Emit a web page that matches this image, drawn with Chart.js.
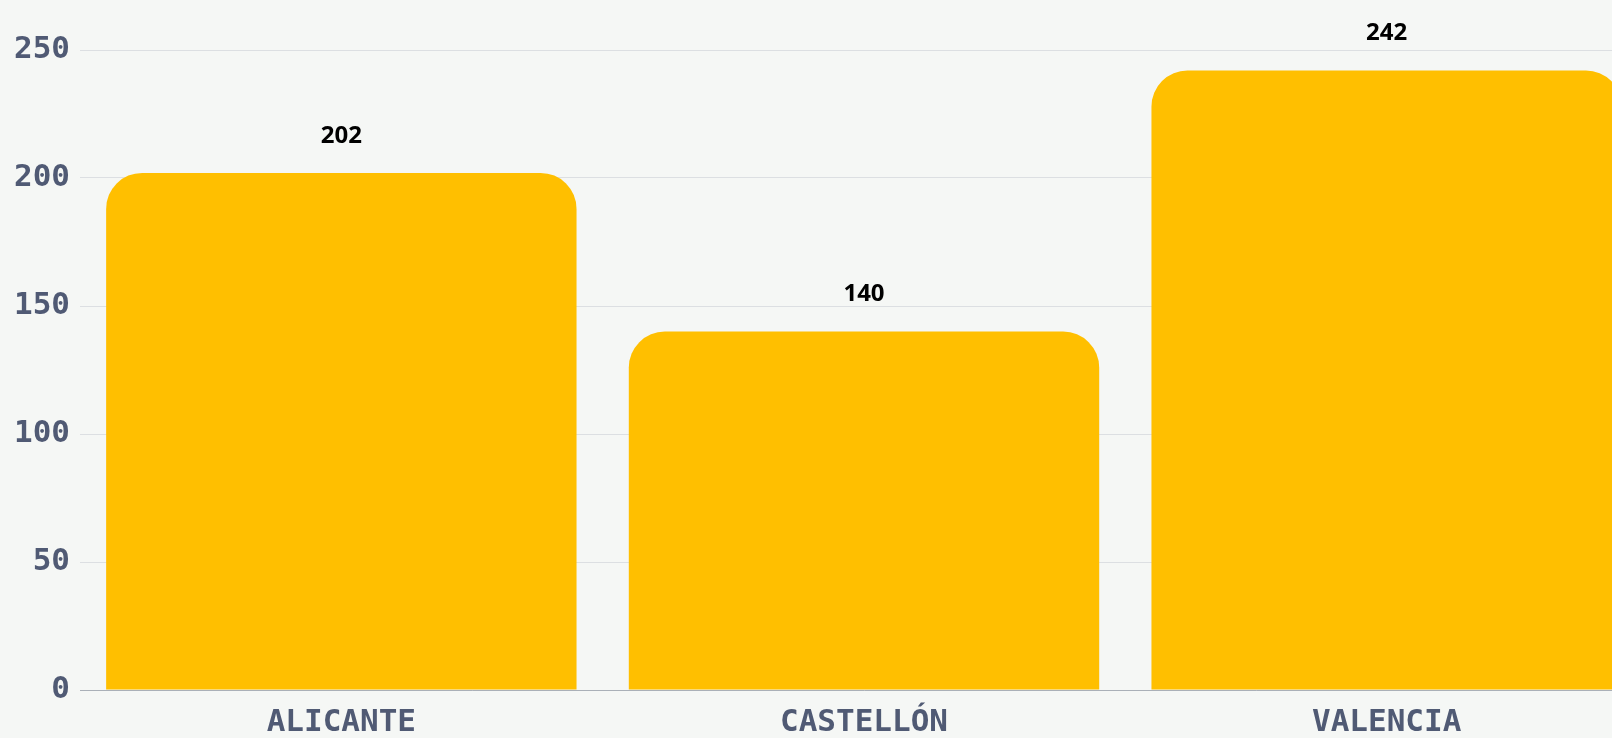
<!DOCTYPE html>
<html>
<head>
<meta charset="utf-8">
<script src="https://cdn.jsdelivr.net/npm/chart.js@4.4.0/dist/chart.umd.min.js"></script>
<style>
  html, body { margin: 0; padding: 0; background: #f5f7f5; overflow: hidden; }
  .chart-box { width: 1648px; height: 738px; position: relative; }
</style>
</head>
<body>
<div class="chart-box"><canvas id="chart"></canvas></div>
<script>
const provinces = ["ALICANTE", "CASTELLÓN", "VALENCIA"];
const counts = [202, 140, 242];
const yTicks = [0, 50, 100, 150, 200, 250];

// draws the value over each bar (no datalabels plugin here)
const valueLabels = {
  id: "valueLabels",
  afterDatasetsDraw(chart) {
    const ctx = chart.ctx;
    const meta = chart.getDatasetMeta(0);
    ctx.save();
    ctx.font = "bold 24px 'Open Sans', 'Noto Sans', sans-serif";
    ctx.fillStyle = "#000";
    ctx.textAlign = "center";
    ctx.textBaseline = "middle";
    meta.data.forEach((bar, i) => {
      ctx.fillText(counts[i], bar.x, bar.y - 37);
    });
    ctx.restore();
  },
};

const tickFont = { family: "'DejaVu Sans Mono', monospace", size: 31, weight: "bold" };

const ctx = document.getElementById("chart").getContext("2d");
new Chart(ctx, {
  type: "bar",
  data: {
    labels: provinces,
    datasets: [
      {
        data: counts,
        backgroundColor: "#ffbf00",
        borderRadius: { topLeft: 36, topRight: 36, bottomLeft: 0, bottomRight: 0 },
        borderSkipped: false,
        barPercentage: 0.9,
        categoryPercentage: 1,
      },
    ],
  },
  options: {
    responsive: true,
    maintainAspectRatio: false,
    animation: false,
    layout: { padding: { top: 50, left: 0, right: 0, bottom: 0 } },
    plugins: {
      legend: { display: false },
      tooltip: { enabled: false },
    },
    scales: {
      x: {
        grid: { display: false, drawTicks: false },
        border: { display: true, color: "#aab0b8", width: 1 },
        afterFit(axis) {
          axis.height = 48;
        },
        ticks: {
          color: "#505a74",
          padding: 14,
          font: tickFont,
        },
      },
      y: {
        min: 0,
        max: 250,
        afterBuildTicks(axis) {
          axis.ticks = yTicks.map((v) => ({ value: v }));
        },
        afterFit(axis) {
          axis.width = 80;
        },
        grid: { color: "#dcdfe2", drawTicks: false },
        border: { display: false },
        ticks: {
          color: "#505a74",
          padding: 10,
          font: tickFont,
        },
      },
    },
  },
  plugins: [valueLabels],
});
</script>
</body>
</html>
